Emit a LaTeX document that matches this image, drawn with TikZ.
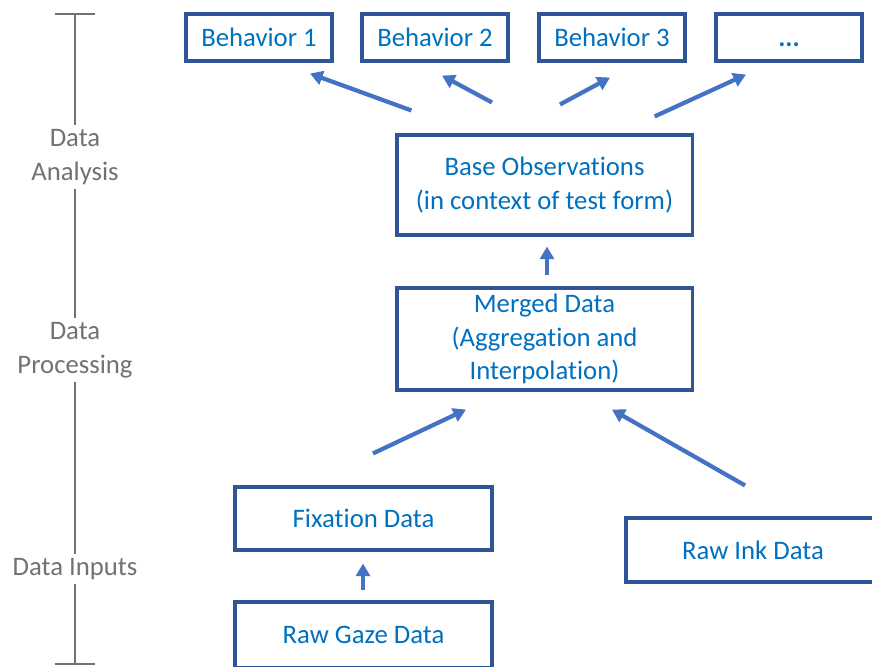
\documentclass[tikz,border=0pt]{standalone}
\usepackage{xcolor}
\usepackage{tikz}
\usepackage{fontspec}
\setmainfont[Ligatures=NoCommon]{Carlito}
\usetikzlibrary{arrows.meta, positioning, calc}
\definecolor{boxblue}{RGB}{47, 85, 151}
\definecolor{textblue}{RGB}{0, 112, 192}
\definecolor{arrowblue}{RGB}{68, 114, 196}
\definecolor{axisgray}{RGB}{118, 113, 113}

\begin{document}
\begin{tikzpicture}[
    x=0.025cm, y=0.025cm,
    box/.style={rectangle, draw=boxblue, line width=2.2pt, fill=white, text=textblue, align=center, font=\fontsize{19}{23.8}\selectfont, inner sep=0pt},
    stage/.style={text=axisgray, align=center, font=\fontsize{19}{23.8}\selectfont, inner sep=3pt},
    arrow/.style={draw=arrowblue, line width=3pt, -{Triangle[length=9pt, width=10pt]}},
    axis/.style={draw=axisgray, line width=2pt}
]
    \useasboundingbox[fill=white] (0,0) rectangle (872,-666);

    % top row
    \node[box, minimum width=3.65cm, minimum height=1.175cm] (b1) at (259,-37.5) {Behavior 1};
    \node[box, minimum width=3.65cm, minimum height=1.175cm] (b2) at (435,-37.5) {Behavior 2};
    \node[box, minimum width=3.65cm, minimum height=1.175cm] (b3) at (612,-37.5) {Behavior 3};
    \node[box, minimum width=3.65cm, minimum height=1.175cm] (more) at (789,-37.5) {\textbf{\vphantom{B}...}};

    \node[box, minimum width=7.375cm, minimum height=2.5cm] (base) at (544.5,-185) {Base Observations\\(in context of test form)};
    \node[box, minimum width=7.375cm, minimum height=2.55cm] (merged) at (544.5,-339) {Merged Data\\(Aggregation and\\Interpolation)};

    \node[box, minimum width=6.425cm, minimum height=1.575cm] (fixation) at (363.5,-518.5) {Fixation Data};
    \node[box, minimum width=6.425cm, minimum height=1.65cm] (gaze) at (363.5,-635) {Raw Gaze Data};
    \node[box, minimum width=6.35cm, minimum height=1.6cm] (ink) at (753,-550) {Raw Ink Data};

    % stages on the left
    \coordinate (axtop) at (75,-14);
    \coordinate (axbot) at (75,-664);
    \node[stage] (analysis) at (75,-157) {Data\\Analysis};
    \node[stage] (processing) at (75,-350) {Data\\Processing};
    \node[stage] (inputs) at (75,-569) {Data Inputs};

    \draw[axis] ([xshift=-14.5]axtop) -- ([xshift=14.5]axtop);
    \draw[axis] ([xshift=-14.5]axbot) -- ([xshift=14.5]axbot);
    \draw[axis] (axtop) -- (analysis);
    \draw[axis] (analysis) -- (processing);
    \draw[axis] (processing) -- (inputs);
    \draw[axis] (inputs) -- (axbot);

    \draw[arrow] ([shift={(16,23)}]base.north west) -- ([shift={(51,-11)}]b1.south);
    \draw[arrow] ([shift={(-52.5,31)}]base.north) -- ([shift={(7,-13)}]b2.south);
    \draw[arrow] ([shift={(15.5,29)}]base.north) -- ([shift={(-2,-15)}]b3.south);
    \draw[arrow] ([shift={(-39,17)}]base.north east) -- ([shift={(-43,-12)}]more.south);
    \draw[arrow] ([shift={(2.5,11)}]merged.north) -- ([shift={(2.5,-10)}]base.south);
    \draw[arrow] ([shift={(9.5,32)}]fixation.north) -- ([shift={(-78.5,-18)}]merged.south);
    \draw[arrow] ([shift={(-8,31)}]ink.north) -- ([shift={(67.5,-18)}]merged.south);
    \draw[arrow] ([shift={(-0.5,10)}]gaze.north) -- ([shift={(-0.5,-12)}]fixation.south);

\end{tikzpicture}
\end{document}
